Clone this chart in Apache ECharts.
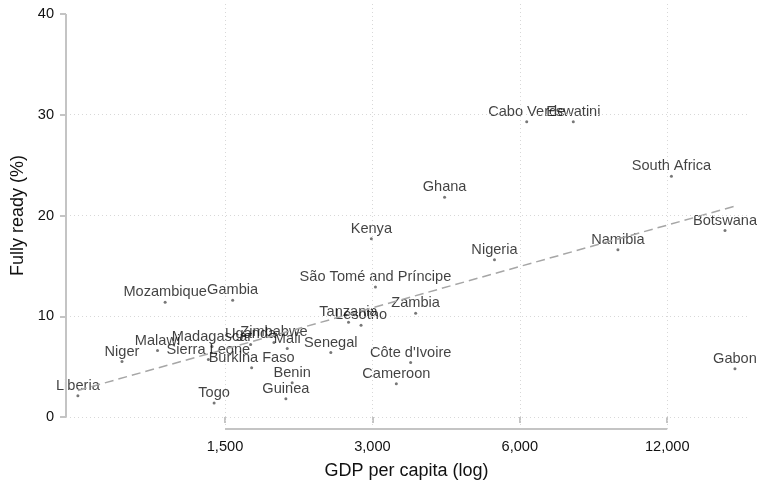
<!DOCTYPE html>
<html>
<head>
<meta charset="utf-8">
<script src="https://cdn.jsdelivr.net/npm/echarts@6/dist/echarts.min.js"></script>
<style>
  html, body { margin: 0; padding: 0; background: #ffffff; }
  #chart { width: 757px; height: 480px; }
</style>
</head>
<body>
<div id="chart"></div>
<script>
// Country readiness vs. GDP per capita
const countries = [
  'Liberia', 'Niger', 'Malawi', 'Mozambique', 'Togo', 'Sierra Leone', 'Madagascar',
  'Gambia', 'Uganda', 'Burkina Faso', 'Zimbabwe', 'Guinea', 'Mali', 'Benin',
  'Senegal', 'Tanzania', 'Lesotho', 'Kenya', 'São Tomé and Príncipe', 'Cameroon',
  "Côte d'Ivoire", 'Zambia', 'Ghana', 'Nigeria', 'Cabo Verde', 'Eswatini',
  'Namibia', 'South Africa', 'Botswana', 'Gabon'
];
const gdpPerCapita = [
  751, 924, 1092, 1132, 1425, 1387, 1411,
  1555, 1692, 1700, 1888, 1997, 2010, 2057,
  2467, 2681, 2844, 2985, 3043, 3357,
  3591, 3676, 4212, 5326, 6198, 7716,
  9517, 12240, 15745, 16500
];
const fullyReady = [
  2.1, 5.5, 6.6, 11.4, 1.4, 5.7, 7.0,
  11.6, 7.2, 4.9, 7.4, 1.8, 6.8, 3.4,
  6.4, 9.4, 9.1, 17.7, 12.9, 3.3,
  5.4, 10.3, 21.8, 15.6, 29.3, 29.3,
  16.6, 23.9, 18.5, 4.8
];

// Linear fit endpoints (GDP per capita, % fully ready)
const fitGdp = [751, 16500];
const fitReady = [2.64, 20.93];

// Axis ticks
const xTicks = [1500, 3000, 6000, 12000];
const yTicks = [0, 10, 20, 30, 40];

// Axis ranges (x in log2 units)
const xMin = 9.472, xMax = 14.092;
const yMin = -1.19, yMax = 41.19;

const textColor = '#111111';
const fontFamily = '"Liberation Sans", Arial, Helvetica, sans-serif';
const labelSize = 14.6;
const axisColor = '#c4c4c4';
const gridColor = '#d8d8d8';

const lg = v => Math.log2(v);

const points = countries.map((c, i) => ({ value: [lg(gdpPerCapita[i]), fullyReady[i]], name: c }));

// Reference lines: dotted grid and partial axis lines
const guideLines = [];
yTicks.filter(v => v < 40).forEach(v => {
  guideLines.push([{ coord: [xMin, v], lineStyle: { color: gridColor, width: 1, type: [1, 3] } }, { coord: [xMax, v] }]);
});
xTicks.forEach(v => {
  guideLines.push([{ coord: [lg(v), yMin], lineStyle: { color: gridColor, width: 1, type: [1, 3] } }, { coord: [lg(v), yMax] }]);
});
guideLines.push([{ coord: [xMin, yTicks[0]], lineStyle: { color: axisColor, width: 2, type: 'solid' } }, { coord: [xMin, yTicks[yTicks.length - 1]] }]);
guideLines.push([{ coord: [lg(xTicks[0]), yMin], lineStyle: { color: axisColor, width: 2, type: 'solid' } }, { coord: [lg(xTicks[xTicks.length - 1]), yMin] }]);

const chart = echarts.init(document.getElementById('chart'), null, { renderer: 'canvas' });
chart.setOption({
  backgroundColor: '#ffffff',
  animation: false,
  textStyle: { fontFamily: fontFamily },
  grid: { left: 66, right: 10, top: 2, bottom: 51, containLabel: false, outerBoundsMode: 'none' },
  xAxis: {
    type: 'value',
    min: xMin,
    max: xMax,
    name: 'GDP per capita (log)',
    nameLocation: 'middle',
    nameGap: 33,
    nameTextStyle: { fontSize: 18, color: textColor, fontFamily: fontFamily },
    axisLine: { show: false },
    axisTick: { show: true, length: 6, customValues: xTicks.map(lg), lineStyle: { color: axisColor, width: 2 } },
    axisLabel: {
      customValues: xTicks.map(lg),
      margin: 10,
      fontSize: labelSize,
      color: textColor,
      fontFamily: fontFamily,
      formatter: v => Math.round(Math.pow(2, v)).toLocaleString('en-US')
    },
    splitLine: { show: false }
  },
  yAxis: {
    type: 'value',
    min: yMin,
    max: yMax,
    name: 'Fully ready (%)',
    nameLocation: 'middle',
    nameGap: 39,
    nameTextStyle: { fontSize: 18, color: textColor, fontFamily: fontFamily },
    axisLine: { show: false },
    axisTick: { show: true, length: 6, customValues: yTicks, lineStyle: { color: axisColor, width: 2 } },
    axisLabel: { customValues: yTicks, margin: 12, fontSize: labelSize, color: textColor, fontFamily: fontFamily },
    splitLine: { show: false }
  },
  series: [
    {
      type: 'scatter',
      data: points,
      symbol: 'circle',
      symbolSize: 3,
      itemStyle: { color: '#555555' },
      label: {
        show: true,
        position: 'top',
        distance: 1,
        formatter: p => p.name,
        fontSize: labelSize,
        color: textColor,
        fontFamily: fontFamily
      },
      labelLayout: { hideOverlap: false },
      markLine: {
        silent: true,
        symbol: ['none', 'none'],
        label: { show: false },
        animation: false,
        data: guideLines
      },
      z: 3
    },
    {
      type: 'line',
      data: fitGdp.map((g, i) => [lg(g), fitReady[i]]),
      symbol: 'none',
      lineStyle: { color: '#a6a6a6', width: 1.5, type: [9, 5] },
      silent: true,
      z: 4
    }
  ]
});
</script>
</body>
</html>
